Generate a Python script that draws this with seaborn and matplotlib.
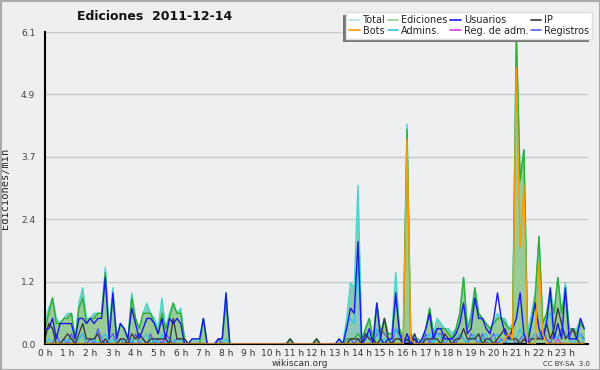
import numpy as np
import pandas as pd
import matplotlib
matplotlib.use("Agg")
import matplotlib.pyplot as plt
from matplotlib.patches import Rectangle
from matplotlib.lines import Line2D
import seaborn as sns

# ---- data: edits per 10-minute slot (counts), shown as edits/min ----
hour_labels = [f"{h} h" for h in range(24)]
y_tick_values = [0.0, 1.22, 2.44, 3.66, 4.88, 6.1]
y_tick_labels = ["0.0", "1.2", "2.4", "3.7", "4.9", "6.1"]

total = [
    4, 7, 9, 5, 4, 5,   6, 6, 1, 8, 11, 5,   5, 6, 6, 6, 15, 3,   11, 1, 4, 3, 1, 10,
    5, 3, 6, 8, 6, 5,   3, 9, 3, 6, 8, 6,    7, 1, 0, 1, 1, 1,    5, 0, 0, 0, 1, 1,
    10, 0, 0, 0, 0, 0,  0, 0, 0, 0, 0, 0,    0, 0, 0, 0, 0, 1,    0, 0, 0, 0, 0, 0,
    1, 0, 0, 0, 0, 0,   1, 0, 5, 12, 11, 31, 1, 3, 5, 1, 8, 2,    5, 2, 2, 14, 3, 1,
    43, 1, 2, 0, 1, 3,  7, 2, 5, 4, 3, 3,    2, 3, 6, 13, 3, 6,   11, 6, 5, 4, 3, 4,
    6, 5, 5, 3, 4, 61,  32, 38, 2, 6, 10, 21, 4, 6, 11, 6, 13, 6, 12, 3, 3, 3, 5, 3,
]
ediciones = [
    3, 6, 9, 4, 4, 5,   5, 6, 1, 7, 9, 4,    5, 5, 6, 6, 14, 2,   9, 1, 4, 3, 1, 9,
    5, 3, 6, 6, 6, 4,   2, 6, 3, 5, 8, 6,    6, 1, 0, 0, 0, 0,    5, 0, 0, 0, 1, 1,
    8, 0, 0, 0, 0, 0,   0, 0, 0, 0, 0, 0,    0, 0, 0, 0, 0, 1,    0, 0, 0, 0, 0, 0,
    1, 0, 0, 0, 0, 0,   0, 0, 1, 1, 1, 2,    1, 3, 5, 1, 8, 2,    5, 2, 2, 9, 3, 1,
    42, 1, 1, 0, 1, 3,  7, 2, 3, 3, 3, 2,    1, 3, 6, 13, 3, 5,   11, 6, 5, 4, 3, 4,
    5, 5, 4, 3, 3, 60,  32, 38, 1, 4, 9, 21, 4, 6, 9, 6, 13, 6,   10, 3, 3, 2, 4, 3,
]
usuarios = [
    3, 3, 5, 1, 4, 4,   4, 4, 1, 5, 5, 4,    5, 4, 5, 5, 13, 1,   10, 1, 4, 3, 1, 7,
    4, 1, 3, 5, 5, 4,   2, 5, 1, 5, 4, 5,    4, 0, 0, 1, 1, 1,    5, 0, 0, 0, 1, 1,
    10, 0, 0, 0, 0, 0,  0, 0, 0, 0, 0, 0,    0, 0, 0, 0, 0, 0,    0, 0, 0, 0, 0, 0,
    0, 0, 0, 0, 0, 0,   1, 0, 3, 7, 6, 20,   0, 1, 3, 0, 8, 1,    0, 1, 1, 10, 2, 0,
    2, 0, 1, 0, 1, 3,   6, 1, 3, 3, 1, 1,    1, 2, 4, 8, 2, 3,    9, 5, 5, 3, 2, 5,
    10, 5, 2, 1, 3, 5,  10, 2, 0, 4, 8, 3,   1, 4, 11, 1, 4, 1,   11, 1, 1, 1, 5, 3,
]
ip = [
    1, 4, 3, 0, 0, 1,   2, 1, 0, 2, 4, 1,    1, 1, 2, 0, 1, 0,    0, 0, 1, 1, 0, 2,
    1, 2, 1, 0, 1, 1,   1, 1, 1, 0, 5, 1,    1, 1, 0, 0, 0, 0,    0, 0, 0, 0, 0, 0,
    0, 0, 0, 0, 0, 0,   0, 0, 0, 0, 0, 0,    0, 0, 0, 0, 0, 1,    0, 0, 0, 0, 0, 0,
    1, 0, 0, 0, 0, 0,   0, 0, 0, 1, 1, 1,    0, 2, 1, 1, 0, 1,    5, 1, 0, 1, 1, 0,
    1, 0, 2, 0, 0, 1,   1, 1, 1, 0, 2, 1,    0, 1, 1, 3, 1, 1,    1, 2, 0, 1, 1, 0,
    1, 2, 3, 1, 1, 1,   0, 1, 0, 1, 1, 1,    1, 4, 1, 3, 7, 4,    1, 2, 3, 1, 0, 0,
]
bots = [
    0, 0, 0, 0, 0, 0,   0, 0, 0, 0, 0, 0,    0, 0, 0, 0, 0, 0,    0, 0, 0, 0, 0, 0,
    0, 0, 0, 0, 0, 0,   0, 0, 0, 0, 0, 0,    0, 0, 0, 0, 0, 0,    0, 0, 0, 0, 0, 0,
    0, 0, 0, 0, 0, 0,   0, 0, 0, 0, 0, 0,    0, 0, 0, 0, 0, 0,    0, 0, 0, 0, 0, 0,
    0, 0, 0, 0, 0, 0,   0, 0, 0, 0, 0, 0,    0, 0, 0, 0, 0, 0,    0, 0, 0, 0, 0, 0,
    40, 1, 0, 0, 0, 0,  0, 0, 0, 0, 0, 0,    0, 0, 0, 0, 0, 0,    0, 0, 0, 0, 0, 0,
    0, 0, 1, 2, 1, 54,  19, 31, 0, 0, 0, 16, 2, 0, 0, 0, 0, 0,    0, 0, 0, 0, 0, 0,
]
admins = [
    0, 1, 0, 0, 0, 0,   1, 0, 0, 1, 2, 0,    0, 1, 0, 1, 2, 0,    1, 0, 0, 1, 0, 1,
    0, 0, 1, 2, 0, 1,   0, 2, 0, 1, 1, 0,    1, 0, 0, 0, 0, 0,    0, 0, 0, 0, 0, 0,
    1, 0, 0, 0, 0, 0,   0, 0, 0, 0, 0, 0,    0, 0, 0, 0, 0, 0,    0, 0, 0, 0, 0, 0,
    0, 0, 0, 0, 0, 0,   0, 0, 4, 5, 4, 16,   0, 1, 2, 0, 3, 0,    1, 0, 1, 3, 1, 0,
    1, 0, 0, 1, 0, 1,   2, 0, 2, 1, 0, 1,    0, 1, 2, 1, 0, 1,    2, 0, 1, 2, 0, 1,
    2, 0, 1, 0, 2, 1,   3, 1, 0, 1, 2, 2,    1, 5, 6, 2, 1, 2,    2, 1, 0, 1, 2, 0,
]
reg_adm = [0] * 144
reg_adm[32] = 1
reg_adm[127] = 1
reg_adm[136] = 1
registros = [
    0, 0, 0, 2, 0, 1,   0, 2, 0, 1, 2, 0,    1, 0, 3, 1, 0, 1,    2, 0, 1, 0, 1, 0,
    2, 0, 1, 0, 2, 0,   1, 0, 2, 1, 0, 1,    1, 0, 0, 0, 0, 0,    0, 0, 0, 0, 1, 0,
    0, 0, 0, 0, 0, 0,   0, 0, 0, 0, 0, 0,    0, 0, 0, 0, 0, 0,    0, 0, 0, 0, 0, 0,
    0, 0, 0, 0, 0, 0,   0, 0, 0, 1, 0, 1,    1, 2, 1, 0, 2, 3,    2, 1, 0, 3, 2, 1,
    0, 2, 0, 1, 0, 2,   0, 2, 2, 2, 0, 1,    1, 0, 2, 1, 0, 2,    1, 0, 2, 0, 1, 2,
    0, 1, 0, 2, 1, 0,   1, 2, 0, 1, 2, 1,    3, 1, 0, 2, 1, 3,    2, 1, 3, 1, 2, 1,
]

series = {
    "Total": total, "Ediciones": ediciones, "Usuarios": usuarios, "IP": ip,
    "Bots": bots, "Admins.": admins, "Reg. de adm.": reg_adm, "Registros": registros,
}
colors = {
    "Total": "#45d6c8", "Ediciones": "#2fae2f", "Usuarios": "#1a1ae6", "IP": "#3a3a3a",
    "Bots": "#ff9a00", "Admins.": "#3cc4e4", "Reg. de adm.": "#d040e0", "Registros": "#5c5cf0",
}
legend_colors = dict(colors)
legend_colors["Total"] = "#aee8e2"
legend_colors["Ediciones"] = "#8fd08f"

hours = np.arange(144) / 6.0
df = pd.DataFrame({"hora": np.tile(hours, len(series)),
                   "serie": np.repeat(list(series.keys()), 144),
                   "valor": np.concatenate([np.array(v) / 10.0 for v in series.values()])})

bg = "#eeeff1"
sns.set_theme(style="white")
plt.rcParams["font.family"] = ["DejaVu Sans"]

fig = plt.figure(figsize=(6.0, 3.7), dpi=100, facecolor=bg)
ax = fig.add_axes([45 / 600, 26 / 370, 543 / 600, 312 / 370])
ax.set_facecolor(bg)

for yv in y_tick_values[1:]:
    ax.axhline(yv, color="#c8c8c8", lw=1, zorder=0.5)

tot = df[df.serie == "Total"]
edi = df[df.serie == "Ediciones"]
ax.fill_between(tot.hora, tot.valor, color="#8dc6b4", lw=0, zorder=1)
ax.fill_between(edi.hora, edi.valor, color="#97cb97", lw=0, zorder=1.1)

order = ["Total", "Ediciones", "Registros", "Admins.", "Reg. de adm.", "IP", "Usuarios", "Bots"]
for i, name in enumerate(order):
    sub = df[df.serie == name]
    sns.lineplot(data=sub, x="hora", y="valor", color=colors[name], lw=1.0,
                 ax=ax, legend=False, zorder=2 + i * 0.1, estimator=None)

ax.set_xlim(0, 24)
ax.set_ylim(0, 6.1)
ax.set_xticks(range(24))
ax.set_xticklabels(hour_labels, fontsize=6.5, color="#333333")
ax.set_xticks(np.arange(0, 24, 1 / 6), minor=True)
ax.set_yticks(y_tick_values)
ax.set_yticklabels(y_tick_labels, fontsize=6.5, color="#444444")
ax.set_yticks([0.61, 1.83, 3.05, 4.27, 5.49], minor=True)
ax.tick_params(axis="x", which="major", direction="out", length=3.5, width=1, color="black", pad=0)
ax.tick_params(axis="x", which="minor", direction="out", length=2.5, width=1, color="black")
ax.tick_params(axis="y", which="major", direction="out", length=6, width=1, color="black", pad=1)
ax.tick_params(axis="y", which="minor", direction="out", length=3, width=1, color="black")
ax.set_xlabel("")
ax.set_ylabel("Ediciones/min", fontsize=7.5, family="DejaVu Sans Mono", labelpad=8)
for s in ["top", "right"]:
    ax.spines[s].set_visible(False)
for s in ["left", "bottom"]:
    ax.spines[s].set_color("black")
    ax.spines[s].set_linewidth(1.5)

fig.text(155 / 600, 1 - 17 / 370, "Ediciones  2011-12-14", fontsize=9, fontweight="bold",
         ha="center", va="center", color="#111111")
fig.text(300 / 600, 1 - 363 / 370, "wikiscan.org", fontsize=6.5, ha="center", va="center", color="#333333")
fig.text(590 / 600, 1 - 364 / 370, "CC BY-SA  3.0", fontsize=5, ha="right", va="center", color="#333333")

labels_leg = ["Total", "Bots", "Ediciones", "Admins.", "Usuarios", "Reg. de adm.", "IP", "Registros"]
handles = [Line2D([0], [0], color=legend_colors[n], lw=1.2) for n in labels_leg]
leg = fig.legend(handles, labels_leg, loc="upper left", bbox_to_anchor=(346 / 600, 1 - 12 / 370),
                 ncol=4, fontsize=7, frameon=True, fancybox=False, facecolor="white",
                 edgecolor="#dddddd", framealpha=1, borderpad=0.3, labelspacing=0.1,
                 handlelength=1.1, handletextpad=0.3, columnspacing=0.25, borderaxespad=0)
leg.set_zorder(5)
fig.canvas.draw()
bb = leg.get_window_extent().transformed(fig.transFigure.inverted())
fig.patches.append(Rectangle((bb.x0 - 3 / 600, bb.y0 - 3 / 370), bb.width, bb.height,
                             transform=fig.transFigure, facecolor="#777777", edgecolor="none", zorder=4))
fig.patches.append(Rectangle((0.5 / 600, 0.5 / 370), 599 / 600, 369 / 370, transform=fig.transFigure,
                             facecolor="none", edgecolor="#aaaaaa", lw=1.5, zorder=10))

fig.savefig("out.png", dpi=100, facecolor=bg)
